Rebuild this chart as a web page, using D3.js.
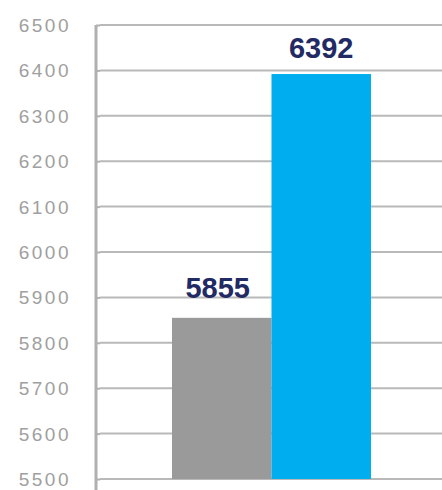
<!DOCTYPE html>
<html>
<head>
<meta charset="utf-8">
<script src="https://cdnjs.cloudflare.com/ajax/libs/d3/7.8.5/d3.min.js"></script>
<style>
  body { margin: 0; background: #fff; }
  svg { display: block; }
  .tick-label { font-family: "Liberation Sans", Arial, sans-serif; font-size: 19px; fill: #a0a0a0; letter-spacing: 2.5px; }
  .value-label { font-family: "Liberation Sans", Arial, sans-serif; font-size: 29px; font-weight: bold; fill: #222a64; }
</style>
</head>
<body>
<svg id="chart"></svg>
<script>
// chart values
var categories = ['A', 'B'];
var values = [5855, 6392];
var barColors = ['#9a9a9a', '#00aeef'];
var tickValues = [5500, 5600, 5700, 5800, 5900, 6000, 6100, 6200, 6300, 6400, 6500];

var width = 442,
    height = 490;

var svg = d3.select('#chart')
    .attr('width', width)
    .attr('height', height);

var y = d3.scaleLinear()
    .domain([5500, 6500])
    .range([479, 25]);

var x = d3.scaleBand()
    .domain(categories)
    .range([172, 371])
    .padding(0);

// gridlines
svg.append('g')
    .selectAll('line')
    .data(tickValues)
    .enter().append('line')
    .attr('x1', 100)
    .attr('x2', width)
    .attr('y1', function(d) { return y(d); })
    .attr('y2', function(d) { return y(d); })
    .style('stroke', '#b9b9b9')
    .style('stroke-width', 2);

// bars
svg.append('g')
    .selectAll('rect')
    .data(values)
    .enter().append('rect')
    .attr('x', function(d, i) { return x(categories[i]); })
    .attr('width', x.bandwidth())
    .attr('y', function(d) { return y(d); })
    .attr('height', function(d) { return y(5500) - y(d); })
    .style('fill', function(d, i) { return barColors[i]; });

// left axis
var axis = svg.append('g')
    .attr('transform', 'translate(96,0)')
    .call(d3.axisLeft(y).tickValues(tickValues).tickSize(6).tickFormat(''));
axis.select('.domain').remove();
axis.selectAll('.tick line')
    .style('stroke', '#b0b0b0')
    .style('stroke-width', 2)
    .attr('x2', 4);

svg.append('line')
    .attr('x1', 96).attr('x2', 96)
    .attr('y1', 25).attr('y2', height)
    .style('stroke', '#b0b0b0')
    .style('stroke-width', 3);

// tick labels
svg.append('g')
    .selectAll('text')
    .data(tickValues)
    .enter().append('text')
    .attr('class', 'tick-label')
    .attr('x', 71)
    .attr('y', function(d) { return y(d) + 7; })
    .attr('text-anchor', 'end')
    .text(function(d) { return d; });

// value labels
svg.append('g')
    .selectAll('text')
    .data(values)
    .enter().append('text')
    .attr('class', 'value-label')
    .attr('x', function(d, i) { return x(categories[i]) + x.bandwidth() / 2 - (i === 0 ? 4 : 0); })
    .attr('y', function(d, i) { return i === 0 ? y(d) - 20 : y(d) - 16; })
    .attr('text-anchor', 'middle')
    .text(function(d) { return d; });
</script>
</body>
</html>
